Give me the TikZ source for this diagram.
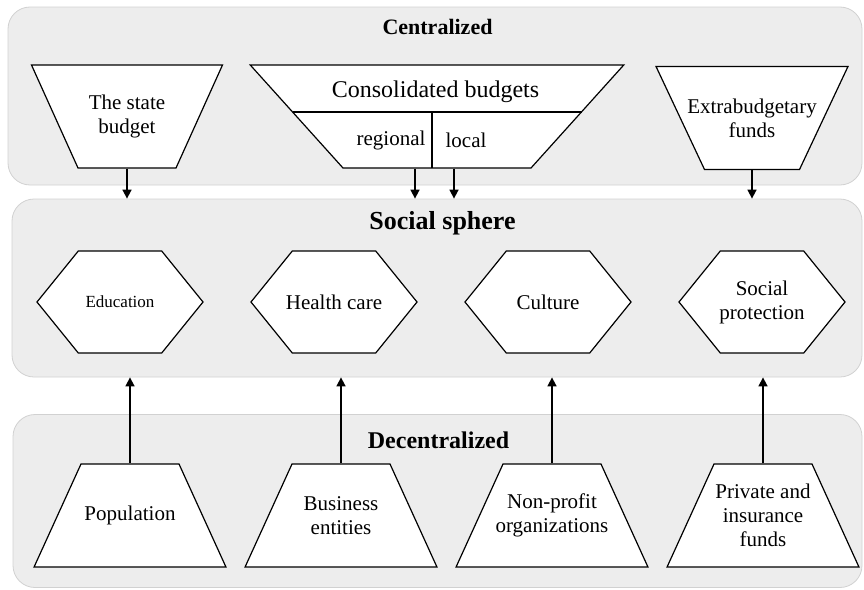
\documentclass[tikz,border=0pt]{standalone}
\usepackage{fontspec}
\setmainfont{Liberation Serif}
\usetikzlibrary{shapes.geometric,shapes.symbols,arrows.meta}

\begin{document}
\begin{tikzpicture}[x=1pt, y=-1pt, node distance=214pt,
  band/.style = {draw=black!18, fill=black!7, line width=0.8pt, rounded corners=22pt},
  title/.style = {font=\bfseries\fontsize{#1}{#1}\selectfont},
  txt/.style = {font=\fontsize{21}{24}\selectfont},
  lbl/.style = {label={[txt, align=center]center:#1}},
  budget/.style = {draw, fill=white, line width=1.2pt, trapezium, shape border rotate=180, inner ysep=51.5pt},
  source/.style = {draw, fill=white, line width=1.2pt, trapezium, trapezium angle=65.5, inner xsep=49pt, inner ysep=51.5pt},
  field/.style = {draw, fill=white, line width=1.2pt, signal, signal to=west and east, signal pointer angle=102, inner sep=0pt, minimum width=166pt, minimum height=102pt},
  arr/.style = {line width=1.6pt, -{Triangle[length=9pt,width=9pt]}}]
\useasboundingbox (0,0) rectangle (864,589);

% the three levels
\node[band, minimum width=854pt, minimum height=178pt] (central) at (435,96) {};
\node[band, minimum width=850pt, minimum height=178pt] (social) at (437,288) {};
\node[band, minimum width=849pt, minimum height=173pt] (decentral) at (437.5,501) {};
\node[title=22] (centraltitle) at (437.5,27) {Centralized};
\node[title=26] (socialtitle) at (442.5,223) {Social sphere};
\node[title=24] (decentraltitle) at (438.5,440) {Decentralized};

% centralized budgets
\node[budget, trapezium angle=65.7, inner xsep=49pt, lbl={The state\\budget}] (state) at (127,116.5) {};
\node[budget, trapezium angle=48, inner xsep=94pt] (cons) at (437,116.5) {};
\node[budget, trapezium angle=64.8, inner xsep=47.5pt, lbl={Extrabudgetary\\funds}] (extra) at (752,118) {};
\draw[line width=1.2pt] (292.5,112) -- (581.5,112);
\draw[line width=1.2pt] (432,112) -- (432,168);
\node[font=\fontsize{24}{28}\selectfont] (constitle) at (435.5,92) {Consolidated budgets};
\node[txt] (regional) at (391,140) {regional};
\node[txt] (local) at (466,140) {local};

% social sphere
\node[field, label={[font=\fontsize{17}{20}\selectfont]center:Education}] (edu) at (120,302) {};
\node[field, lbl={Health care}] (health) [right of=edu] {};
\node[field, lbl={Culture}] (culture) [right of=health] {};
\node[field, lbl={Social\\protection}] (protect) [right of=culture] {};

% decentralized sources
\node[source, lbl={Population}] (pop) at (130,515.5) {};
\node[source, lbl={Business\\entities}, node distance=211pt] (biz) [right of=pop] {};
\node[source, lbl={Non-profit\\organizations}, node distance=211pt] (npo) [right of=biz] {};
\node[source, lbl={Private and\\insurance\\funds}, node distance=211pt] (priv) [right of=npo] {};

\draw[arr] (state.south) -- (state.south |- social.north);
\draw[arr] ([xshift=-22pt]cons.south) -- ([xshift=-22pt]cons.south |- social.north);
\draw[arr] ([xshift=17pt]cons.south) -- ([xshift=17pt]cons.south |- social.north);
\draw[arr] (extra.south) -- (extra.south |- social.north);
\foreach \s in {pop,biz,npo,priv}
  \draw[arr] (\s.north) -- (\s.north |- social.south);

\end{tikzpicture}
\end{document}
